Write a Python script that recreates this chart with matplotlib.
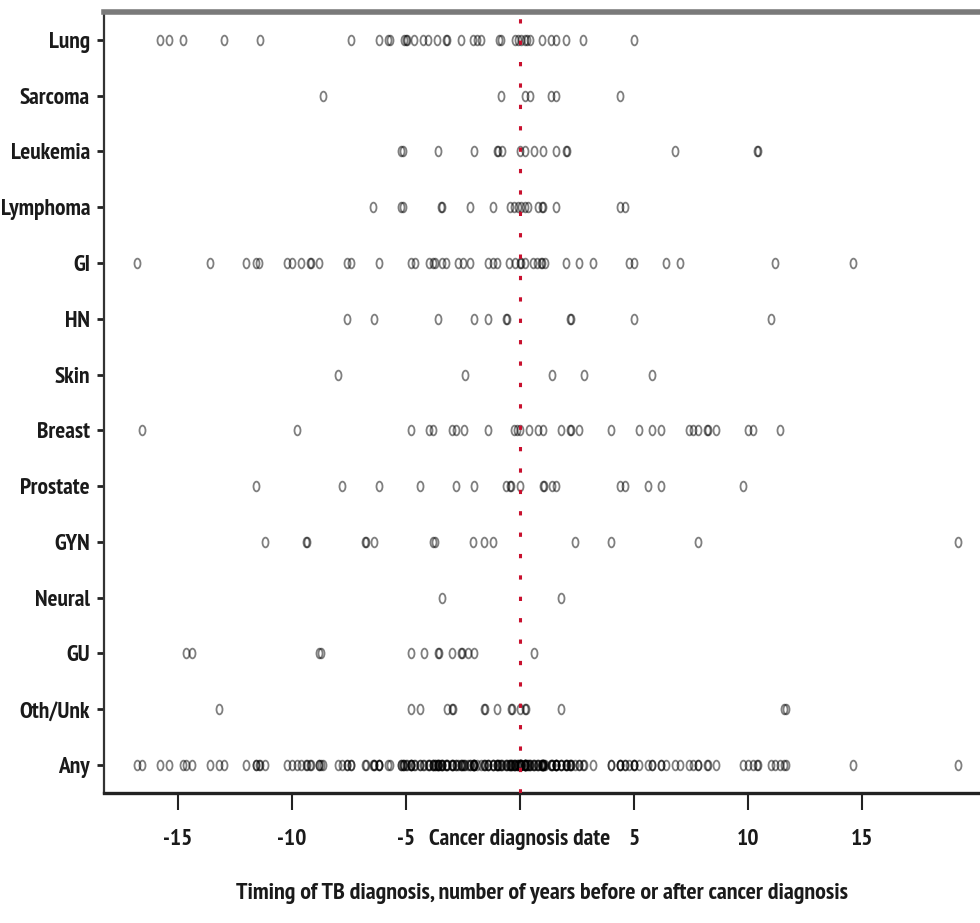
import numpy as np
import matplotlib
matplotlib.use("Agg")
import matplotlib.pyplot as plt
from matplotlib.path import Path
from matplotlib.markers import MarkerStyle
from matplotlib import font_manager as fm
from matplotlib.textpath import TextPath

categories = ["Lung", "Sarcoma", "Leukemia", "Lymphoma", "GI", "HN", "Skin",
              "Breast", "Prostate", "GYN", "Neural", "GU", "Oth/Unk", "Any"]

lung = [-15.8, -15.4, -14.8, -13.0, -11.4, -7.4, -6.2, -5.8, -5.7, -5.1, -5.0, -4.95,
        -4.65, -4.25, -4.05, -3.65, -3.25, -3.2, -2.6, -2.05, -1.9, -1.7, -0.9, -0.85,
        -0.2, -0.1, 0.05, 0.2, 0.3, 0.45, 0.95, 1.35, 1.6, 2.0, 2.75, 5.0]
sarcoma = [-8.65, -0.85, 0.2, 0.45, 1.35, 1.6, 4.4]
leukemia = [-5.2, -5.15, -3.6, -2.0, -1.0, -0.95, -0.8, 0.0, 0.2, 0.6, 1.0, 1.6,
            2.0, 2.05, 6.8, 10.4, 10.45]
lymphoma = [-6.45, -5.2, -5.15, -3.45, -3.4, -2.2, -1.2, -0.45, -0.25, -0.1, 0.05,
            0.2, 0.35, 0.8, 0.95, 1.0, 1.6, 4.4, 4.6]
gi = [-16.8, -13.6, -12.0, -11.6, -11.45, -10.2, -10.0, -9.6, -9.2, -9.15, -8.8,
      -7.6, -7.4, -6.2, -4.8, -4.6, -4.0, -3.8, -3.75, -3.4, -3.25, -2.7, -2.5, -2.2,
      -1.4, -1.2, -1.0, -0.5, -0.2, 0.0, 0.05, 0.2, 0.55, 0.75, 0.9, 0.95, 1.1, 2.0,
      2.6, 3.2, 4.8, 5.0, 6.4, 7.0, 11.2, 14.6]
hn = [-7.6, -6.4, -3.6, -2.0, -1.4, -0.6, -0.55, 2.2, 2.25, 5.0, 11.0]
skin = [-8.0, -2.4, 1.4, 2.8, 5.8]
breast = [-16.6, -9.8, -4.8, -4.0, -3.8, -3.0, -2.8, -2.45, -1.4, -0.25, -0.15, 0.0,
          0.4, 0.8, 1.0, 1.8, 2.2, 2.25, 2.6, 4.0, 5.2, 5.8, 6.2, 7.4, 7.6, 7.8, 8.2,
          8.25, 8.6, 10.0, 10.2, 11.4]
prostate = [-11.6, -7.8, -6.2, -4.4, -2.8, -2.0, -0.6, -0.45, -0.4, 0.0, 1.0, 1.05,
            1.4, 1.6, 4.4, 4.6, 5.6, 6.2, 9.8]
gyn = [-11.2, -9.4, -9.35, -6.8, -6.75, -6.4, -3.8, -3.75, -2.05, -1.6, -1.2, 2.4,
       4.0, 7.8, 19.2]
neural = [-3.4, 1.8]
gu = [-14.65, -14.4, -8.8, -8.75, -4.8, -4.2, -3.6, -3.55, -3.0, -2.6, -2.55, -2.3,
      -2.0, 0.6]
oth_unk = [-13.2, -4.8, -4.4, -3.2, -3.0, -2.95, -1.6, -1.55, -1.0, -0.4, -0.35, 0.0,
           0.2, 0.25, 1.8, 11.6, 11.65]
any_site = (lung + sarcoma + leukemia + lymphoma + gi + hn + skin + breast + prostate
            + gyn + neural + gu + oth_unk)

series = [lung, sarcoma, leukemia, lymphoma, gi, hn, skin, breast, prostate, gyn,
          neural, gu, oth_unk, any_site]

xticks = [-15, -10, -5, 0, 5, 10, 15]
xticklabels = ["-15", "-10", "-5", "Cancer diagnosis date", "5", "10", "15"]
xlabel = "Timing of TB diagnosis, number of years before or after cancer diagnosis"


def pick_font(bold):
    """Find the narrowest sans font installed (Arial-Narrow-like look)."""
    want_w = 700 if bold else 400
    best = None
    for f in fm.fontManager.ttflist:
        name = f.name.lower()
        fn = f.fname.lower()
        key = fn.replace("-", "").replace("_", "").replace(" ", "")
        if "italic" in fn or "oblique" in fn or f.style != "normal":
            continue
        if "mono" in key or "serif" in key.replace("sansserif", ""):
            continue
        w = f.weight if isinstance(f.weight, int) else (700 if "bold" in str(f.weight) else 400)
        score = None
        if "narrow" in name or "narrow" in fn:
            score = 0
        elif "extracondensed" in key or str(f.stretch) == "extra-condensed":
            score = 1
        elif "semicondensed" in key or str(f.stretch) == "semi-condensed":
            score = 3
        elif "condensed" in key or str(f.stretch) == "condensed":
            score = 2
        elif name == "liberation sans":
            score = 5
        if score is None:
            continue
        score = score * 10 + abs(w - want_w) / 100.0
        if best is None or score < best[0]:
            best = (score, f.fname)
    if best is None:
        return fm.FontProperties(family="DejaVu Sans",
                                 weight="bold" if bold else "normal")
    return fm.FontProperties(fname=best[1])


fp_bold = pick_font(True)


def size_for(text, prop, target_px):
    ext = TextPath((0, 0), text, size=10, prop=prop).get_extents()
    width_px = ext.width * 100.0 / 72.0
    return 10.0 * target_px / width_px


ysize = size_for("Lymphoma", fp_bold, 88)
xsize = size_for("Cancer diagnosis date", fp_bold, 180)
lsize = size_for(xlabel, fp_bold, 610)

fig = plt.figure(figsize=(9.8, 9.23), dpi=100)
ax = fig.add_axes([0.1061, 0.1409, 0.8939, 0.8461])

# tall, narrow open ellipse marker
circ = Path.unit_circle()
ell = Path(circ.vertices * np.array([0.62, 1.0]), circ.codes)
mk = MarkerStyle(ell)

for i, vals in enumerate(series):
    ax.plot(vals, [i] * len(vals), linestyle="none", marker=mk, markersize=7.0,
            markerfacecolor="none", markeredgecolor=(0, 0, 0, 0.5),
            markeredgewidth=1.3, zorder=3)

ax.axvline(0, color="#c8102e", linewidth=2.2, linestyle=(0, (1.4, 5.6)), zorder=4)

ax.set_xlim(-18.25, 20.18)
ax.set_ylim(13.5, -0.5)
ax.set_yticks(range(len(categories)))
ax.set_yticklabels(categories)
ax.set_xticks(xticks)
ax.set_xticklabels(xticklabels)
ax.set_xlabel(xlabel, color="#1a1a1a", labelpad=24)
ax.xaxis.label.set_fontproperties(fp_bold)
ax.xaxis.label.set_fontsize(lsize)

for lab in ax.get_yticklabels():
    lab.set_fontproperties(fp_bold)
    lab.set_fontsize(ysize)
    lab.set_color("#1a1a1a")
for lab in ax.get_xticklabels():
    lab.set_fontproperties(fp_bold)
    lab.set_fontsize(xsize)
    lab.set_color("#1a1a1a")

ax.tick_params(axis="y", length=5, width=2, pad=5, color="#222222")
ax.tick_params(axis="x", length=12, width=1.5, pad=14, color="#222222")

ax.spines["right"].set_visible(False)
ax.spines["top"].set_color("#7a7a7a")
ax.spines["top"].set_linewidth(4.0)
ax.spines["left"].set_color("#333333")
ax.spines["left"].set_linewidth(1.6)
ax.spines["bottom"].set_color("#222222")
ax.spines["bottom"].set_linewidth(2.4)

fig.savefig("out.png", dpi=100)
